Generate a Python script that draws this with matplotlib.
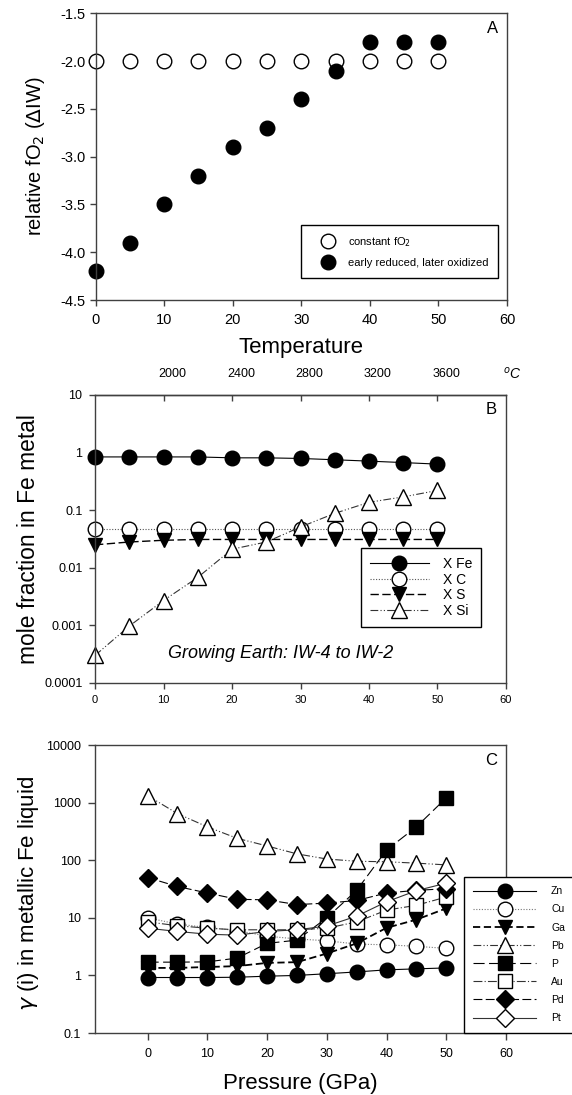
import matplotlib.pyplot as plt
from matplotlib.transforms import ScaledTranslation

plt.rcParams['font.family'] = ['Liberation Sans', 'DejaVu Sans']
plt.rcParams['axes.unicode_minus'] = False
plt.rcParams['axes.edgecolor'] = '#404040'
plt.rcParams['axes.linewidth'] = 1.0

# --- panel A: fO2 paths during accretion ---
steps = [0, 5, 10, 15, 20, 25, 30, 35, 40, 45, 50]
fo2_constant = [-2.0, -2.0, -2.0, -2.0, -2.0, -2.0, -2.0, -2.0, -2.0, -2.0, -2.0]
fo2_reduced_oxidized = [-4.2, -3.9, -3.5, -3.2, -2.9, -2.7, -2.4, -2.1, -1.8, -1.8, -1.8]

# --- panel B: metal composition ---
x_fe = [0.84, 0.84, 0.84, 0.84, 0.81, 0.81, 0.79, 0.75, 0.71, 0.67, 0.63]
x_c = [0.047, 0.047, 0.047, 0.047, 0.047, 0.047, 0.047, 0.047, 0.047, 0.047, 0.047]
x_s = [0.025, 0.028, 0.030, 0.031, 0.031, 0.031, 0.031, 0.031, 0.031, 0.031, 0.031]
x_si = [0.0003, 0.00097, 0.0027, 0.0068, 0.021, 0.028, 0.051, 0.088, 0.137, 0.17, 0.22]
temp_tick_pos = [10, 20, 30, 40, 50]
temp_tick_labels = ['2000', '2400', '2800', '3200', '3600']
frac_ticks = [0.0001, 0.001, 0.01, 0.1, 1, 10]
frac_labels = ['0.0001', '0.001', '0.01', '0.1', '1', '10']

# --- panel C: activity coefficients ---
pressure = [0, 5, 10, 15, 20, 25, 30, 35, 40, 45, 50]
gamma_zn = [0.92, 0.92, 0.92, 0.93, 0.97, 1.0, 1.07, 1.15, 1.25, 1.3, 1.35]
gamma_cu = [10.0, 7.8, 6.8, 6.0, 4.8, 4.3, 4.0, 3.5, 3.4, 3.2, 2.95]
gamma_ga = [1.35, 1.35, 1.4, 1.45, 1.65, 1.7, 2.4, 3.6, 6.7, 9.3, 14.6]
gamma_pb = [1320, 645, 380, 240, 177, 129, 105, 96, 94, 89, 83]
gamma_p = [1.7, 1.7, 1.72, 2.0, 3.6, 4.1, 10.0, 30, 150, 380, 1210]
gamma_au = [8.5, 7.3, 6.6, 6.2, 6.2, 6.2, 6.6, 8.5, 13.6, 16.5, 23]
gamma_pd = [50, 35, 27, 21, 20.5, 17, 18, 20, 27, 30, 32]
gamma_pt = [6.6, 5.8, 5.2, 5.0, 5.8, 6.2, 7.2, 10.7, 19, 29.6, 40]
gamma_ticks = [0.1, 1, 10, 100, 1000, 10000]
gamma_labels = ['0.1', '1', '10', '100', '1000', '10000']

fig = plt.figure(figsize=(5.72, 10.95), dpi=100)
axA = fig.add_axes([0.1671, 0.7260, 0.7193, 0.2619])
axB = fig.add_axes([0.1661, 0.3763, 0.7185, 0.2630])
axC = fig.add_axes([0.1661, 0.0566, 0.7185, 0.2630])

ms = 10.5

# panel A
axA.plot(steps, fo2_constant, 'o', ms=ms, mfc='white', mec='black', mew=1.0,
         ls='none', clip_on=False, label='constant fO$_2$')
axA.plot(steps, fo2_reduced_oxidized, 'o', ms=ms, mfc='black', mec='black',
         ls='none', clip_on=False, label='early reduced, later oxidized')
axA.set_xlim(0, 60)
axA.set_ylim(-4.5, -1.5)
axA.set_xticks([0, 10, 20, 30, 40, 50, 60])
axA.set_yticks([-4.5, -4.0, -3.5, -3.0, -2.5, -2.0, -1.5])
axA.yaxis.set_major_formatter(plt.FormatStrFormatter('%.1f'))
axA.tick_params(direction='out', length=4, width=1, labelsize=10.5, color='#404040')
axA.tick_params(axis='x', pad=5)
axA.tick_params(axis='y', pad=3)
axA.set_xlabel('Temperature', fontsize=16)
axA.xaxis.set_label_coords(0.5, -0.164)
axA.xaxis.label.set_va('center')
axA.set_ylabel('relative fO$_2$ ($\\Delta$IW)', fontsize=14.5)
axA.yaxis.set_label_coords(-0.145, 0.5)
axA.yaxis.label.set_va('center')
axA.text(0.965, 0.948, 'A', transform=axA.transAxes, fontsize=12,
         ha='center', va='center')
legA = axA.legend(loc='upper left', bbox_to_anchor=(0.499, 0.2616),
                  borderaxespad=0, fontsize=8, frameon=True, fancybox=False,
                  edgecolor='black', framealpha=1, numpoints=1,
                  handlelength=3.0, handletextpad=0.3, borderpad=0.9,
                  labelspacing=0.8)
legA.get_frame().set_linewidth(1.0)

# panel B
lw = 0.8
axB.plot(steps, x_fe, '-', color='black', lw=lw, marker='o', ms=ms,
         mfc='black', mec='black', clip_on=False, label='X Fe')
axB.plot(steps, x_c, color='#555555', lw=lw, ls=(0, (1, 1.5)), marker='o',
         ms=ms, mfc='white', mec='black', clip_on=False, label='X C')
axB.plot(steps, x_s, color='black', lw=1.0, ls=(0, (6, 2.5)), marker='v',
         ms=ms, mfc='black', mec='black', clip_on=False, label='X S')
axB.plot(steps, x_si, color='#333333', lw=lw, ls=(0, (7, 2, 1, 2, 1, 2)),
         marker='^', ms=ms + 0.5, mfc='white', mec='black', clip_on=False,
         label='X Si')
axB.set_yscale('log')
axB.set_xlim(0, 60)
axB.set_ylim(0.0001, 10)
axB.set_xticks([0, 10, 20, 30, 40, 50, 60])
axB.set_yticks(frac_ticks, labels=frac_labels)
axB.minorticks_off()
axB.tick_params(direction='out', length=4, width=1, color='#404040')
axB.tick_params(axis='x', labelsize=8, pad=5)
axB.tick_params(axis='y', labelsize=9, pad=5)
axB.set_ylabel('mole fraction in Fe metal', fontsize=16.4)
axB.yaxis.set_label_coords(-0.161, 0.5)
axB.yaxis.label.set_va('center')
axB.text(0.963, 0.948, 'B', transform=axB.transAxes, fontsize=12,
         ha='center', va='center')
axB.text(0.4526, 0.104, 'Growing Earth: IW-4 to IW-2', transform=axB.transAxes,
         fontsize=13, style='italic', ha='center', va='center')
legB = axB.legend(loc='upper left', bbox_to_anchor=(0.647, 0.469),
                  borderaxespad=0, fontsize=10, frameon=True, fancybox=False,
                  edgecolor='black', framealpha=1, numpoints=1,
                  handlelength=4.25, handletextpad=1.0, borderpad=0.65,
                  labelspacing=0.12)
legB.get_frame().set_linewidth(1.0)

top = axB.secondary_xaxis('top')
top.set_xticks(temp_tick_pos, labels=temp_tick_labels)
top.tick_params(direction='in', length=4, width=1, labelsize=9, pad=11,
                color='#404040')
shift = ScaledTranslation(9 / 100, 0, fig.dpi_scale_trans)
for lab in top.get_xticklabels():
    lab.set_transform(lab.get_transform() + shift)
fig.text(512 / 572, 1 - 374 / 1095, '$^o$C', fontsize=10, style='italic',
         ha='center', va='center')

# panel C
series = [
    ('Zn', gamma_zn, dict(ls='-', marker='o', mfc='black', color='black', ms=ms)),
    ('Cu', gamma_cu, dict(ls=(0, (1, 1.5)), marker='o', mfc='white', color='#777777', ms=ms)),
    ('Ga', gamma_ga, dict(ls=(0, (4, 2)), marker='v', mfc='black', color='black', ms=ms, lw=1.3)),
    ('Pb', gamma_pb, dict(ls=(0, (7, 2, 1, 2, 1, 2)), marker='^', mfc='white', color='#333333', ms=ms + 0.5)),
    ('P', gamma_p, dict(ls=(0, (10, 4)), marker='s', mfc='black', color='black', ms=9.5)),
    ('Au', gamma_au, dict(ls=(0, (8, 2, 1, 2)), marker='s', mfc='white', color='#333333', ms=9.5)),
    ('Pd', gamma_pd, dict(ls=(0, (8, 3)), marker='D', mfc='black', color='black', ms=9)),
    ('Pt', gamma_pt, dict(ls='-', marker='D', mfc='white', color='#333333', ms=9)),
]
for name, vals, style in series:
    style.setdefault('lw', lw)
    axC.plot(pressure, vals, mec='black', mew=1.0, label=name, **style)
axC.set_yscale('log')
axC.set_xlim(-8.8, 60)
axC.set_ylim(0.1, 10000)
axC.set_xticks([0, 10, 20, 30, 40, 50, 60])
axC.set_yticks(gamma_ticks, labels=gamma_labels)
axC.minorticks_off()
axC.tick_params(direction='out', length=5, width=1, labelsize=9, color='#404040')
axC.tick_params(axis='x', pad=6)
axC.tick_params(axis='y', pad=5)
axC.set_xlabel('Pressure (GPa)', fontsize=16)
axC.xaxis.set_label_coords(0.5, -0.174)
axC.xaxis.label.set_va('center')
axC.set_ylabel('$\\gamma$ (i) in metallic Fe liquid', fontsize=16)
axC.yaxis.set_label_coords(-0.163, 0.486)
axC.yaxis.label.set_va('center')
axC.text(0.963, 0.948, 'C', transform=axC.transAxes, fontsize=12,
         ha='center', va='center')
legC = axC.legend(loc='upper left', bbox_to_anchor=(0.898, 0.542),
                  borderaxespad=0, fontsize=7.5, frameon=True, fancybox=False,
                  edgecolor='black', framealpha=1, numpoints=1,
                  handlelength=6.0, handletextpad=1.45, borderpad=0.9,
                  labelspacing=0.78)
legC.get_frame().set_linewidth(1.0)

fig.savefig('out.png', dpi=100)
